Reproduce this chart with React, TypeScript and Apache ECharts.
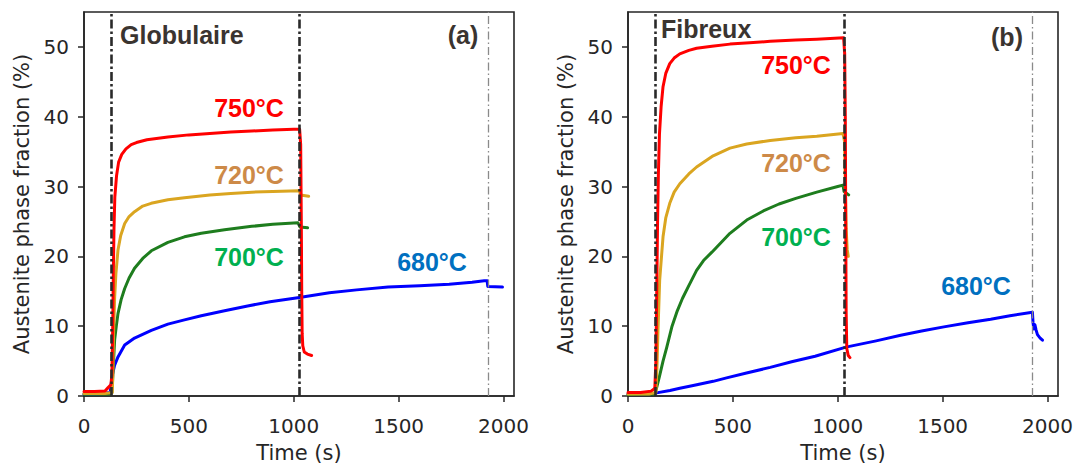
import React, { useEffect, useRef } from "react";
import * as echarts from "echarts";

// ---------- tick labels ----------
const xTicks = [0, 500, 1000, 1500, 2000];
const yTicks = [0, 10, 20, 30, 40, 50];

// ---------- event (dash-dot) times ----------
const eventTimesA = [130, 1028, 1925];
const eventTimesB = [128, 1031, 1925];

// ---------- (a) Globulaire ----------
const redA: number[][] = [
  [0, 0.65], [50, 0.65], [100, 0.7], [115, 1.2], [128, 1.6], [133, 3], [137, 10], [140, 18],
  [143, 24], [147, 28.5], [155, 31.5], [165, 33.5], [180, 34.6], [200, 35.4], [225, 36],
  [250, 36.3], [300, 36.7], [400, 37.1], [500, 37.4], [600, 37.6], [700, 37.8], [800, 37.95],
  [900, 38.1], [1000, 38.2], [1028, 38.2], [1033, 36], [1036, 25], [1038, 15], [1040, 9],
  [1043, 7.2], [1050, 6.3], [1065, 6], [1085, 5.8],
];
const orangeA: number[][] = [
  [0, 0.35], [100, 0.35], [135, 0.5], [138, 4], [141, 9], [146, 14], [152, 17.5], [162, 20.9],
  [175, 23], [194, 24.7], [215, 25.7], [241, 26.4], [280, 27.2], [320, 27.6], [400, 28.1],
  [479, 28.4], [600, 28.8], [700, 29], [800, 29.2], [900, 29.3], [1027, 29.4], [1032, 28.8],
  [1071, 28.6],
];
const greenA: number[][] = [
  [0, 0.25], [128, 0.3], [132, 0.4], [136, 2], [140, 4.5], [146, 8], [154, 10], [162, 11.8],
  [177, 13.8], [194, 15.4], [215, 16.9], [241, 18.3], [280, 19.7], [321, 20.8], [400, 22.0],
  [479, 22.8], [559, 23.3], [670, 23.8], [800, 24.3], [900, 24.6], [1020, 24.8], [1030, 24.2],
  [1066, 24.1],
];
const blueA: number[][] = [
  [0, 0.3], [60, 0.3], [125, 0.5], [131, 2], [135, 3], [146, 4.4], [162, 5.6], [194, 7.3],
  [241, 8.3], [321, 9.4], [400, 10.3], [479, 10.9], [559, 11.5], [670, 12.2], [780, 12.9],
  [887, 13.5], [1027, 14.1], [1170, 14.8], [1300, 15.2], [1450, 15.6], [1600, 15.8],
  [1741, 16.0], [1850, 16.3], [1908, 16.5], [1922, 16.5], [1925, 15.7], [1995, 15.6],
];

// ---------- (b) Fibreux ----------
const redB: number[][] = [
  [0, 0.5], [60, 0.5], [110, 0.7], [124, 1], [128, 1.2], [133, 5], [137, 15], [141, 25],
  [145, 32], [150, 37.5], [158, 41.5], [167, 44.3], [180, 46.2], [199, 47.6], [220, 48.4],
  [247, 49], [290, 49.5], [327, 49.8], [400, 50.1], [486, 50.4], [580, 50.6], [678, 50.8],
  [800, 51], [900, 51.1], [1028, 51.3], [1033, 49], [1036, 40], [1038, 25], [1040, 12],
  [1043, 6.8], [1050, 5.8], [1058, 5.5],
];
const orangeB: number[][] = [
  [0, 0.3], [100, 0.3], [133, 0.5], [138, 4], [143, 9.4], [151, 16.6], [167, 22.8],
  [180, 25.5], [199, 27.6], [220, 29.2], [247, 30.4], [290, 31.8], [327, 32.8], [406, 34.4],
  [486, 35.5], [566, 36.1], [678, 36.6], [800, 37], [900, 37.2], [1025, 37.6], [1032, 36.5],
  [1036, 30], [1040, 24], [1045, 21], [1050, 20],
];
const greenB: number[][] = [
  [0, 0.2], [125, 0.3], [130, 0.4], [150, 2.8], [167, 5], [185, 7], [210, 10], [235, 12.2],
  [260, 14], [290, 15.8], [327, 18], [360, 19.4], [400, 20.6], [486, 23.3], [566, 25.2],
  [645, 26.5], [720, 27.5], [800, 28.3], [900, 29.2], [1000, 30], [1025, 30.2],
  [1030, 29.3], [1052, 28.8],
];
const blueB: number[][] = [
  [0, 0.3], [60, 0.3], [127, 0.4], [136, 0.45], [200, 0.8], [247, 1.1], [311, 1.5],
  [406, 2.1], [470, 2.6], [565, 3.3], [678, 4.1], [780, 4.9], [892, 5.7],
  [1039, 7.0], [1183, 7.9], [1300, 8.7], [1400, 9.3], [1506, 9.9], [1621, 10.5], [1729, 11.0],
  [1821, 11.5], [1928, 12.0], [1931, 10.5], [1935, 9.6], [1940, 10.2], [1945, 9.5],
  [1952, 8.8], [1965, 8.3], [1976, 8.0],
];

const seriesNames = ["680°C", "700°C", "720°C", "750°C"];
const lineColors = ["#0000FF", "#1E7D1E", "#DAA520", "#FF0000"];
const labelColors = ["#0070C0", "#00B050", "#CD8A48", "#FF0000"];

const AXIS = "#262626";
const TEXT_DARK = "#3A3430";
const tickFont = "DejaVu Sans";
const boldFont = '"Liberation Sans", Arial, sans-serif';

function makeX(gridIndex: number) {
  return {
    gridIndex,
    type: "value",
    min: 0,
    max: 2050,
    axisLine: { show: true, onZero: false, lineStyle: { color: AXIS, width: 1.6 } },
    axisTick: { show: true, length: 6, customValues: xTicks, lineStyle: { color: AXIS, width: 1.5 } },
    axisLabel: {
      customValues: xTicks,
      formatter: (v: number) => String(v),
      fontSize: 20,
      fontFamily: tickFont,
      color: AXIS,
      margin: 20,
    },
    splitLine: { show: false },
    name: "Time (s)",
    nameLocation: "middle",
    nameGap: 46,
    nameTextStyle: { fontSize: 21, fontFamily: tickFont, color: AXIS },
  };
}

function makeY(gridIndex: number) {
  return {
    gridIndex,
    type: "value",
    min: 0,
    max: 55,
    axisLine: { show: true, onZero: false, lineStyle: { color: AXIS, width: 1.6 } },
    axisTick: { show: true, length: 6, customValues: yTicks, lineStyle: { color: AXIS, width: 1.5 } },
    axisLabel: {
      customValues: yTicks,
      formatter: (v: number) => String(v),
      fontSize: 20,
      fontFamily: tickFont,
      color: AXIS,
      margin: 15,
    },
    splitLine: { show: false },
    name: "Austenite phase fraction (%)",
    nameLocation: "middle",
    nameRotate: 90,
    nameGap: 52,
    nameTextStyle: { fontSize: 21, fontFamily: tickFont, color: AXIS },
  };
}

function eventLines(times: number[]) {
  return {
    symbol: "none",
    silent: true,
    animation: false,
    label: { show: false },
    data: times.map((t, i) => ({
      xAxis: t,
      lineStyle:
        i < 2
          ? { color: "#2A2A2A", width: 2.6, type: [9, 3, 2.5, 3] }
          : { color: "#8A8A8A", width: 1.3, type: [8, 3, 1.5, 3] },
    })),
  };
}

function lineSeries(name: string, data: number[][], color: string, gi: number, times?: number[]) {
  const s: any = {
    name,
    type: "line",
    xAxisIndex: gi,
    yAxisIndex: gi,
    data,
    showSymbol: false,
    symbol: "none",
    smooth: false,
    lineStyle: { color, width: 3, join: "round", cap: "round" },
    itemStyle: { color },
    z: 3,
  };
  if (times) s.markLine = eventLines(times);
  return s;
}

function label(text: string, x: number, y: number, fill: string, align = "center") {
  return {
    type: "text",
    x,
    y,
    z: 20,
    style: {
      text,
      fill,
      font: `bold 25px ${boldFont}`,
      align,
      verticalAlign: "middle",
    },
  };
}

export default function App() {
  const ref = useRef<HTMLDivElement>(null);
  useEffect(() => {
    if (!ref.current) return;
    const chart = echarts.init(ref.current, undefined, { renderer: "svg" });
    const dataA = [blueA, greenA, orangeA, redA];
    const dataB = [blueB, greenB, orangeB, redB];
    const series: any[] = [];
    dataA.forEach((d, i) =>
      series.push(lineSeries(seriesNames[i], d, lineColors[i], 0, i === 3 ? eventTimesA : undefined))
    );
    dataB.forEach((d, i) =>
      series.push(lineSeries(seriesNames[i], d, lineColors[i], 1, i === 3 ? eventTimesB : undefined))
    );
    const gridBase = {
      top: 12,
      width: 430,
      height: 384,
      show: true,
      borderColor: AXIS,
      borderWidth: 1.6,
      containLabel: false,
      outerBoundsMode: "none",
    };
    chart.setOption({
      animation: false,
      backgroundColor: "#ffffff",
      grid: [
        { ...gridBase, left: 84 },
        { ...gridBase, left: 628 },
      ],
      xAxis: [makeX(0), makeX(1)],
      yAxis: [makeY(0), makeY(1)],
      series,
      graphic: [
        label("Globulaire", 120, 35, TEXT_DARK, "left"),
        label("(a)", 463, 35, TEXT_DARK),
        label(seriesNames[3], 249, 108, labelColors[3]),
        label(seriesNames[2], 249, 175, labelColors[2]),
        label(seriesNames[1], 249, 257, labelColors[1]),
        label(seriesNames[0], 432, 262, labelColors[0]),
        label("Fibreux", 661, 29, TEXT_DARK, "left"),
        label("(b)", 1007, 37, TEXT_DARK),
        label(seriesNames[3], 796, 65, labelColors[3]),
        label(seriesNames[2], 796, 163, labelColors[2]),
        label(seriesNames[1], 796, 237, labelColors[1]),
        label(seriesNames[0], 976, 286, labelColors[0]),
      ],
    });
    return () => chart.dispose();
  }, []);
  return (
    <div
      ref={ref}
      style={{ position: "fixed", left: 0, top: 0, width: 1078, height: 464, background: "#fff" }}
    />
  );
}
